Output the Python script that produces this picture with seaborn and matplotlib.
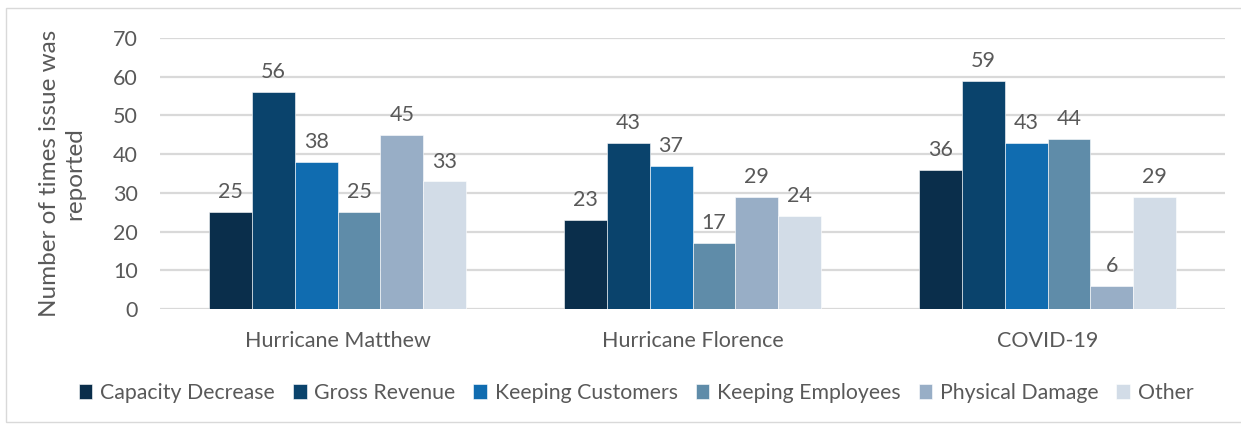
import matplotlib
matplotlib.use("Agg")
import matplotlib.pyplot as plt
import matplotlib.patches as mpatches
import seaborn as sns
import pandas as pd

events = ["Hurricane Matthew", "Hurricane Florence", "COVID-19"]
issues = ["Capacity Decrease", "Gross Revenue", "Keeping Customers",
          "Keeping Employees", "Physical Damage", "Other"]
capacity_decrease = [25, 23, 36]
gross_revenue = [56, 43, 59]
keeping_customers = [38, 37, 43]
keeping_employees = [25, 17, 44]
physical_damage = [45, 29, 6]
other = [33, 24, 29]
yticks = [0, 10, 20, 30, 40, 50, 60, 70]

palette = ["#0a2e4b", "#0a436c", "#106cb0", "#5f8ca9", "#98aec6", "#d2dce7"]

series = [capacity_decrease, gross_revenue, keeping_customers,
          keeping_employees, physical_damage, other]
rows = []
for issue, vals in zip(issues, series):
    for ev, v in zip(events, vals):
        rows.append({"Event": ev, "Issue": issue, "Count": v})
df = pd.DataFrame(rows)

sns.set_style("white")
plt.rcParams["font.family"] = ["Lato", "DejaVu Sans"]
text_color = "#595959"

fig = plt.figure(figsize=(12.41, 4.26), dpi=100)
ax = fig.add_axes([160 / 1241, 1 - 309 / 426, 1065 / 1241, 271 / 426])

sns.barplot(data=df, x="Event", y="Count", hue="Issue", order=events,
            hue_order=issues, palette=palette, width=0.725, ax=ax,
            edgecolor="white", linewidth=0.4, saturation=1, legend=True)

for cont in ax.containers:
    ax.bar_label(cont, fmt="%d", padding=7, fontsize=15.5, color=text_color)

ax.set_ylim(0, 70)
ax.set_yticks(yticks)
ax.yaxis.grid(True, color="#d9d9d9", linewidth=1.6)
ax.set_axisbelow(True)
for s in ax.spines.values():
    s.set_visible(False)
ax.tick_params(axis="both", length=0, labelcolor=text_color)
ax.tick_params(axis="y", pad=16, labelsize=15.5)
ax.tick_params(axis="x", pad=16, labelsize=15.5)
ax.set_xlabel("")
ax.set_ylabel("Number of times issue was\nreported", fontsize=17.5,
              color=text_color, labelpad=20, linespacing=1.25)

handles, labels = ax.get_legend_handles_labels()
ax.legend_.remove()
fig.legend(handles, labels, loc="center", bbox_to_anchor=(636 / 1241, 1 - 393 / 426),
           ncol=6, frameon=False, fontsize=15.3, labelcolor=text_color,
           handlelength=0.65, handleheight=0.75, handletextpad=0.35,
           columnspacing=0.85)

fig.patches.append(mpatches.Rectangle((6 / 1241, 4 / 426), 1240 / 1241, 414 / 426,
                                      transform=fig.transFigure, fill=False,
                                      edgecolor="#d9d9d9", linewidth=1.0))

fig.savefig("out.png", dpi=100, facecolor="white")
